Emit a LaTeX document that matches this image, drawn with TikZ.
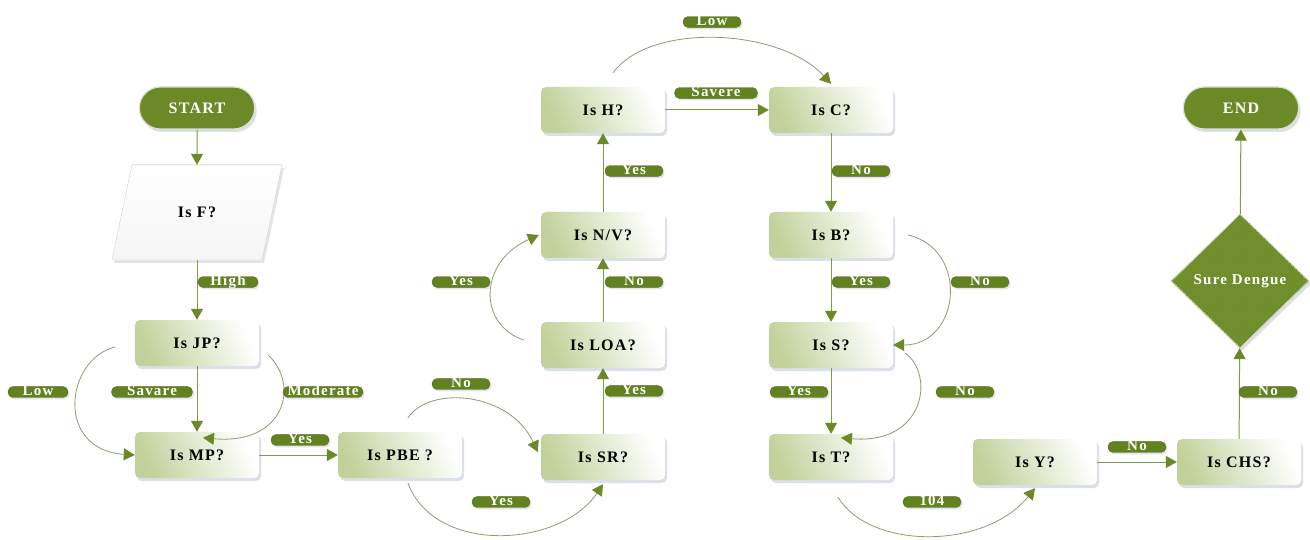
\documentclass[tikz,border=0pt]{standalone}
\usepackage{fontspec}
\setmainfont{Liberation Serif}
\newfontfamily\lsfont[LetterSpace=8]{Liberation Serif}
\usetikzlibrary{arrows.meta,shapes.geometric,shapes.misc,shadows,patterns}
\definecolor{dg}{HTML}{6B8A27}
\definecolor{dgl}{HTML}{7C9A38}
\definecolor{lbl}{HTML}{62821F}
\definecolor{lg}{HTML}{C2D19B}
\definecolor{ln}{HTML}{7F9A48}
\definecolor{cv}{HTML}{8E9A76}
\definecolor{shd}{HTML}{C4CAD8}
\tikzset{
  box/.style={rounded corners=5pt, minimum width=124pt, minimum height=46pt,
    top color=lg, bottom color=white, shading angle=115,
    font=\lsfont\bfseries\fontsize{16}{19}\selectfont,
    drop shadow={shadow xshift=2pt, shadow yshift=-3pt, fill=shd, opacity=0.6}},
  term/.style={rounded rectangle, fill=dg, draw=white!75!dg, line width=1.2pt,
    text=white, minimum width=122pt, minimum height=42pt,
    font=\lsfont\bfseries\fontsize{16}{19}\selectfont,
    drop shadow={shadow xshift=2pt, shadow yshift=-3pt, fill=shd, opacity=0.6}},
  lab/.style={rectangle, rounded corners=5pt, fill=lbl, draw=dg!80!black, line width=0.4pt, text=white,
    font=\lsfont\bfseries\fontsize{15}{15}\selectfont, minimum width=58pt,
    text height=7.5pt, text depth=1pt, inner ysep=1.2pt, inner xsep=4pt,
    drop shadow={shadow xshift=1.5pt, shadow yshift=-2pt, fill=shd, opacity=0.5}},
  ftxt/.style={minimum width=150pt, minimum height=95pt, inner sep=0pt,
    font=\lsfont\bfseries\fontsize{16}{19}\selectfont},
  arr/.style={draw=ln, line width=1pt, -{Triangle[length=11pt,width=12pt,color=dg]}},
  cur/.style={draw=cv, line width=0.8pt, -{Triangle[length=11pt,width=12pt,color=dg]}},
}
\begin{document}
\begin{tikzpicture}[x=1pt,y=-1pt]
\useasboundingbox[fill=white] (0,0) rectangle (1310,540);
% parallelogram
\fill[top color=white, bottom color=black!4, draw=black!7, line width=0.6pt,
  drop shadow={shadow xshift=2pt, shadow yshift=-3pt, fill=shd, opacity=0.5}]
  (132,165) -- (282,165) -- (262,260) -- (112,260) -- cycle;
% nodes
\node[term] (start) at (197,108) {START};
\node[ftxt] (F) at (197,212.5) {Is F?};
\node[box] (JP) at (197,343) {Is JP?};
\node[box] (MP) at (197,455) {Is MP?};
\node[box] (PBE) at (400,455) {Is PBE ?};
\node[box] (SR) at (603,457) {Is SR?};
\node[box] (LOA) at (603,345) {Is LOA?};
\node[box] (NV) at (603,235) {Is N/V?};
\node[box] (H) at (603,110) {Is H?};
\node[box] (C) at (831,110) {Is C?};
\node[box] (B) at (831,235) {Is B?};
\node[box] (S) at (831,345) {Is S?};
\node[box] (T) at (831,457) {Is T?};
\node[box] (Y) at (1035,462) {Is Y?};
\node[box] (CHS) at (1239,462) {Is CHS?};
\node[diamond, aspect=1, inner sep=0pt, minimum width=138pt, minimum height=134pt,
  fill=dg, draw=white!70!dg, line width=1pt, text=white,
  font=\lsfont\bfseries\fontsize{15}{18}\selectfont,
  drop shadow={shadow xshift=2pt, shadow yshift=-3pt, fill=shd, opacity=0.6},
  postaction={pattern=north east lines, pattern color=dgl}]
  (SD) at (1240,281) {Sure Dengue};
\node[term] (END) at (1241,108) {END};
% straight connectors
\draw[arr] (start) -- (F);
\draw[arr] (F) -- (JP);
\draw[arr] (JP) -- (MP);
\draw[arr] (MP) -- (PBE);
\draw[arr] (SR) -- (LOA);
\draw[arr] (LOA) -- (NV);
\draw[arr] (NV) -- (H);
\draw[arr] (H) -- (C);
\draw[arr] (C) -- (B);
\draw[arr] (B) -- (S);
\draw[arr] (S) -- (T);
\draw[arr] (Y) -- (CHS);
\draw[arr] (CHS) -- (SD);
\draw[arr] (SD) -- (END);
% curved connectors
\draw[cur] ([xshift=-20pt,yshift=-4pt]JP.west) .. controls (65,360) and (55,450) .. (MP.west);
\draw[cur] ([xshift=9pt,yshift=-12pt]JP.east) .. controls (300,385) and (285,445) .. ([xshift=6pt,yshift=-6pt]MP.north);
\draw[cur] ([xshift=8pt,yshift=14pt]PBE.north) .. controls (430,385) and (510,392) .. ([xshift=-3pt,yshift=5pt]SR.west);
\draw[cur] ([xshift=8pt,yshift=-5pt]PBE.south) .. controls (435,555) and (560,548) .. ([yshift=-4pt]SR.south);
\draw[cur] ([xshift=-17pt,yshift=5pt]LOA.west) .. controls (478,325) and (478,262) .. ([xshift=-2pt]NV.west);
\draw[cur] ([xshift=10pt,yshift=14pt]H.north) .. controls (650,22) and (780,28) .. ([yshift=3pt]C.north);
\draw[cur] ([xshift=15pt]B.east) .. controls (970,250) and (960,345) .. (S.east);
\draw[cur] ([xshift=12pt,yshift=-8pt]S.east) .. controls (935,375) and (925,445) .. ([xshift=10pt,yshift=-4pt]T.north);
\draw[cur] ([xshift=7pt,yshift=-17pt]T.south) .. controls (870,550) and (985,550) .. ([yshift=-3pt]Y.south);
% labels
\node[lab, minimum width=60pt] (lHigh) at (228,282) {High};
\node[lab, minimum width=60pt] (lLow1) at (38,392) {Low};
\node[lab, minimum width=81pt] (lSavare) at (152,392) {Savare};
\node[lab, minimum width=80pt] (lMod) at (323,392) {Moderate};
\node[lab] (lYes1) at (300,440) {Yes};
\node[lab] (lNo1) at (461,384) {No};
\node[lab] (lYes2) at (501,502) {Yes};
\node[lab] (lYes3) at (634,391) {Yes};
\node[lab] (lNo2) at (634,282) {No};
\node[lab] (lYes4) at (461,282) {Yes};
\node[lab] (lYes5) at (634,171) {Yes};
\node[lab] (lLow2) at (712,22) {Low};
\node[lab, minimum width=83pt] (lSavere) at (716,93) {Savere};
\node[lab] (lNo3) at (861,171) {No};
\node[lab] (lYes6) at (861,282) {Yes};
\node[lab] (lNo4) at (980,282) {No};
\node[lab] (lYes7) at (799,392) {Yes};
\node[lab] (lNo5) at (965,392) {No};
\node[lab] (l104) at (932,502) {104};
\node[lab] (lNo6) at (1137,447) {No};
\node[lab] (lNo7) at (1268,392) {No};
\end{tikzpicture}
\end{document}
